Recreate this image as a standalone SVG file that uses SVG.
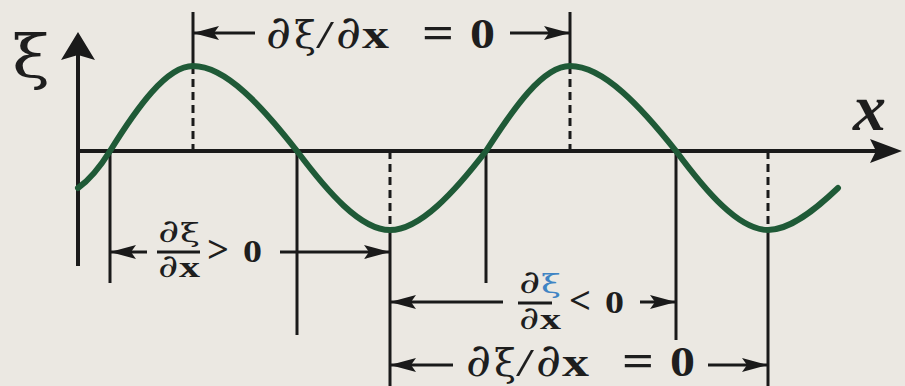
<svg xmlns="http://www.w3.org/2000/svg" width="905" height="386" viewBox="0 0 905 386">
<style>
.bg{fill:#ebe8e2}
.ax{stroke:#1a1a1a;stroke-width:4;fill:none}
.ln{stroke:#1a1a1a;stroke-width:3;fill:none}
.ds{stroke:#1a1a1a;stroke-width:3;fill:none;stroke-dasharray:8 5}
.dim{stroke:#1a1a1a;stroke-width:3;fill:none;marker-end:url(#ah)}
.wave{stroke:#1f5a37;stroke-width:6;fill:none;stroke-linecap:round}
.t{font-family:"Liberation Serif","DejaVu Serif",serif;fill:#1e1e1e}
.g{font-family:"DejaVu Serif","Liberation Serif",serif;fill:#1e1e1e}
.b{font-weight:bold}
.blue{fill:#3f84c4}
</style>
<defs>
<marker id="ah" viewBox="0 0 26 14" refX="26" refY="7" markerWidth="26" markerHeight="14" markerUnits="userSpaceOnUse" orient="auto">
<path d="M0,0 L26,7 L0,14 L5,7 Z" fill="#1a1a1a"/>
</marker>
</defs>
<rect class="bg" x="0" y="0" width="905" height="386"/>
<g id="axes">
<line class="ax" x1="78" y1="50" x2="78" y2="266"/>
<path d="M78,32 L95,60 L78,55 L61,60 Z" fill="#1a1a1a"/>
<line class="ax" x1="78" y1="151" x2="880" y2="151"/>
<path d="M902,151 L870,139 L876,151 L870,163 Z" fill="#1a1a1a"/>
<text class="g" x="12" y="78" font-size="60" textLength="38" lengthAdjust="spacingAndGlyphs">ξ</text>
<text class="t b" x="853" y="130" font-size="66" font-style="italic">x</text>
</g>
<g id="guides">
<line class="ln" x1="193" y1="12" x2="193" y2="66"/>
<line class="ds" x1="193" y1="66" x2="193" y2="151"/>
<line class="ln" x1="570" y1="12" x2="570" y2="66"/>
<line class="ds" x1="570" y1="66" x2="570" y2="151"/>
<line class="ln" x1="110" y1="151" x2="110" y2="283"/>
<line class="ln" x1="297" y1="151" x2="297" y2="335"/>
<line class="ln" x1="486" y1="151" x2="486" y2="283"/>
<line class="ln" x1="676" y1="151" x2="676" y2="340"/>
<line class="ds" x1="390" y1="151" x2="390" y2="230"/>
<line class="ln" x1="390" y1="230" x2="390" y2="386"/>
<line class="ds" x1="768" y1="151" x2="768" y2="230"/>
<line class="ln" x1="768" y1="230" x2="768" y2="386"/>
</g>
<g id="wave">
<path class="wave" d="M78,188 C88,181 98,170.3 110,151 C137,107.5 166.6,66 193,66 C226,66 263,107.5 297,151 C327.3,191.5 360.4,230 390,230 C419.9,230 455,191.5 486,151 C514,107.5 543,66 570,66 C603.7,66 641.4,107.5 676,151 C706,191.5 738.7,230 768,230 C790,230 815,210 838,188"/>
</g>
<g id="connectors">
<line class="dim" x1="255" y1="33" x2="193" y2="33"/>
<line class="dim" x1="510" y1="33" x2="570" y2="33"/>
<line class="dim" x1="147" y1="252" x2="110" y2="252"/>
<line class="dim" x1="280" y1="252" x2="390" y2="252"/>
<line class="dim" x1="503" y1="302" x2="390" y2="302"/>
<line class="dim" x1="640" y1="302" x2="676" y2="302"/>
<line class="dim" x1="453" y1="365" x2="390" y2="365"/>
<line class="dim" x1="708" y1="365" x2="768" y2="365"/>
</g>
<g id="label-top">
<text class="g" x="266" y="48" font-size="46" textLength="25" lengthAdjust="spacingAndGlyphs">∂</text>
<text class="g" x="294" y="48" font-size="38" textLength="22" lengthAdjust="spacingAndGlyphs">ξ</text>
<text class="t" x="316" y="48" font-size="40" textLength="18" lengthAdjust="spacingAndGlyphs">/</text>
<text class="g" x="336" y="48" font-size="46" textLength="25" lengthAdjust="spacingAndGlyphs">∂</text>
<text class="t b" x="362" y="48" font-size="42" textLength="27" lengthAdjust="spacingAndGlyphs">x</text>
<text class="t b" x="422" y="48" font-size="46" textLength="32" lengthAdjust="spacingAndGlyphs">=</text>
<text class="t b" x="470" y="48" font-size="42" textLength="25" lengthAdjust="spacingAndGlyphs">0</text>
</g>
<g id="label-bottom">
<text class="g" x="466" y="376" font-size="46" textLength="25" lengthAdjust="spacingAndGlyphs">∂</text>
<text class="g" x="494" y="376" font-size="38" textLength="22" lengthAdjust="spacingAndGlyphs">ξ</text>
<text class="t" x="516" y="376" font-size="40" textLength="18" lengthAdjust="spacingAndGlyphs">/</text>
<text class="g" x="536" y="376" font-size="46" textLength="25" lengthAdjust="spacingAndGlyphs">∂</text>
<text class="t b" x="562" y="376" font-size="42" textLength="27" lengthAdjust="spacingAndGlyphs">x</text>
<text class="t b" x="622" y="376" font-size="46" textLength="32" lengthAdjust="spacingAndGlyphs">=</text>
<text class="t b" x="670" y="376" font-size="42" textLength="25" lengthAdjust="spacingAndGlyphs">0</text>
</g>
<g id="label-pos">
<text class="g" x="158" y="242" font-size="32" textLength="21" lengthAdjust="spacingAndGlyphs">∂</text>
<text class="g" x="180" y="242" font-size="26" textLength="20" lengthAdjust="spacingAndGlyphs">ξ</text>
<line class="ln" x1="157" y1="252" x2="200" y2="252" stroke-width="2.5"/>
<text class="g" x="158" y="277" font-size="32" textLength="20" lengthAdjust="spacingAndGlyphs">∂</text>
<text class="t b" x="179" y="277" font-size="30" textLength="21" lengthAdjust="spacingAndGlyphs">x</text>
<text class="t b" x="207" y="262" font-size="38" textLength="22" lengthAdjust="spacingAndGlyphs">&gt;</text>
<text class="t b" x="243" y="262" font-size="32" textLength="19" lengthAdjust="spacingAndGlyphs">0</text>
</g>
<g id="label-neg">
<text class="g" x="519" y="293" font-size="32" textLength="21" lengthAdjust="spacingAndGlyphs">∂</text>
<text class="g blue" x="541" y="293" font-size="26" textLength="20" lengthAdjust="spacingAndGlyphs">ξ</text>
<line class="ln" x1="518" y1="303" x2="552" y2="303" stroke-width="2.5"/>
<text class="g" x="519" y="329" font-size="32" textLength="20" lengthAdjust="spacingAndGlyphs">∂</text>
<text class="t b" x="540" y="329" font-size="30" textLength="21" lengthAdjust="spacingAndGlyphs">x</text>
<text class="t b" x="569" y="313" font-size="38" textLength="22" lengthAdjust="spacingAndGlyphs">&lt;</text>
<text class="t b" x="605" y="313" font-size="32" textLength="19" lengthAdjust="spacingAndGlyphs">0</text>
</g>
</svg>
